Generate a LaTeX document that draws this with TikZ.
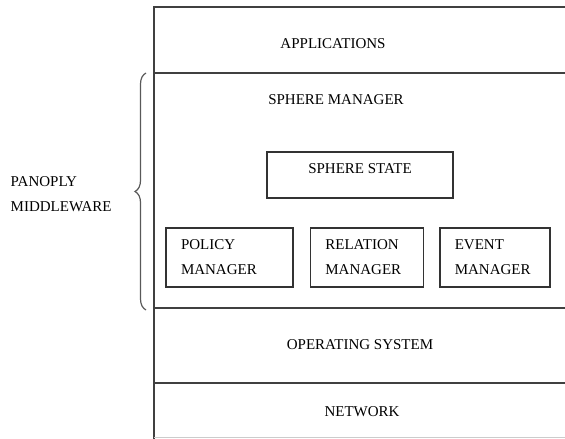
\documentclass[tikz,border=0pt]{standalone}
\usepackage{fontspec}
\setmainfont{Liberation Serif}
\usetikzlibrary{positioning,decorations.pathreplacing}

\begin{document}
\begin{tikzpicture}[x=1pt,y=-1pt,line width=1.4pt,node distance=16pt,
    every node/.style={font=\fontsize{15}{25}\selectfont},
    layer text/.style={inner sep=0pt},
    part box/.style={rectangle,draw=black!80,minimum height=59pt,inner xsep=15pt,align=left}]

                \useasboundingbox (0,0) rectangle (565,439);

                % layers
                \draw[black!75] (565,7) -- (154,7) -- (154,439);
                \draw[black!75] (154,73) -- (565,73);
                \draw[black!75] (154,308) -- (565,308);
                \draw[black!75] (154,383) -- (565,383);
                \draw[black!20, line width=1pt] (154,437) -- (565,437);

                \node[layer text] (apps) at (333,44) {APPLICATIONS};
                \node[layer text] (sm) at (336,100) {SPHERE MANAGER};
                \node[layer text] (os) at (360,345) {OPERATING SYSTEM};
                \node[layer text] (net) at (362,412) {NETWORK};

                \node[rectangle, draw=black!80, minimum width=186pt, minimum height=46pt, text depth=12pt] (state) at (360,175) {SPHERE STATE};

                \node[part box, text width=97pt] (policy) at (229.5,257.5) {POLICY\\MANAGER};
                \node[part box, text width=83pt] (relation) [right=16pt of policy] {RELATION\\MANAGER};
                \node[part box, text width=80pt] (event) [right=15pt of relation] {EVENT\\MANAGER};

                % brace
                \coordinate (bb) at (146,310);
                \coordinate (bt) at (146,73);
                \draw[black!65, line width=1.2pt, decorate, decoration={brace, amplitude=11pt}] (bb) -- (bt);
                \node[align=left, anchor=west, inner sep=0pt] (panoply) at (10,194) {PANOPLY\\MIDDLEWARE};

            \end{tikzpicture}
\end{document}
